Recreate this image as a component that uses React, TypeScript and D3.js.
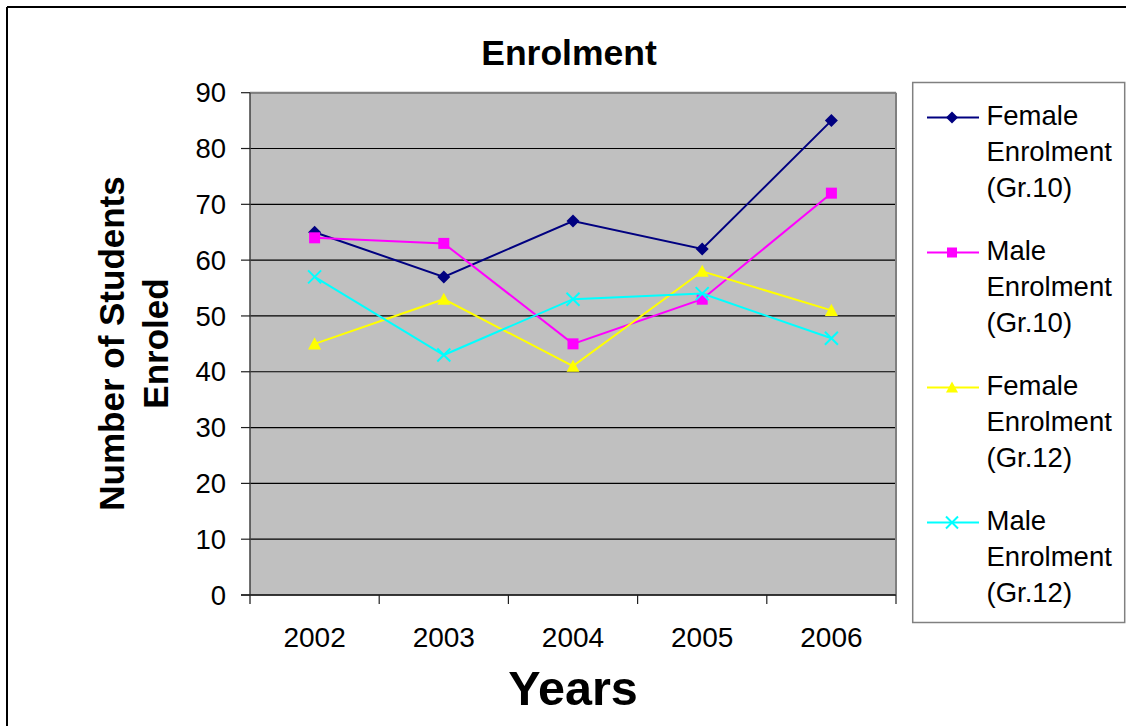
import React from "react";
import * as d3 from "d3";

const years = ["2002", "2003", "2004", "2005", "2006"];
const femaleGr10 = [65, 57, 67, 62, 85];
const maleGr10 = [64, 63, 45, 53, 72];
const femaleGr12 = [45, 53, 41, 58, 51];
const maleGr12 = [57, 43, 53, 54, 46];
const yTicks = [0, 10, 20, 30, 40, 50, 60, 70, 80, 90];
const seriesNames = [
  ["Female", "Enrolment", "(Gr.10)"],
  ["Male", "Enrolment", "(Gr.10)"],
  ["Female", "Enrolment", "(Gr.12)"],
  ["Male", "Enrolment", "(Gr.12)"],
];

const FONT = "'Liberation Sans', Arial, sans-serif";

type Shape = "diamond" | "square" | "triangle" | "x";

function Marker({ x, y, shape, color, s = 6.5 }: { x: number; y: number; shape: Shape; color: string; s?: number }) {
  if (shape === "diamond") {
    return <path d={`M${x},${y - s}L${x + s},${y}L${x},${y + s}L${x - s},${y}Z`} fill={color} />;
  }
  if (shape === "square") {
    const h = s - 1;
    return <rect x={x - h} y={y - h} width={2 * h} height={2 * h} fill={color} />;
  }
  if (shape === "triangle") {
    return <path d={`M${x},${y - s}L${x + s},${y + s * 0.85}L${x - s},${y + s * 0.85}Z`} fill={color} />;
  }
  return (
    <path
      d={`M${x - s},${y - s}L${x + s},${y + s}M${x - s},${y + s}L${x + s},${y - s}`}
      stroke={color}
      strokeWidth={2}
      fill="none"
    />
  );
}

export default function App() {
  const left = 250, right = 896, top = 92.7, bottom = 595;
  const x = d3.scaleBand<string>().domain(years).range([left, right]).padding(0);
  const y = d3.scaleLinear().domain([0, 90]).range([bottom, top]);
  const cx = (yr: string) => (x(yr) as number) + x.bandwidth() / 2;

  const series = [
    { data: femaleGr10, color: "#000080", shape: "diamond" as Shape },
    { data: maleGr10, color: "#FF00FF", shape: "square" as Shape },
    { data: femaleGr12, color: "#FFFF00", shape: "triangle" as Shape },
    { data: maleGr12, color: "#00FFFF", shape: "x" as Shape },
  ];

  const line = d3
    .line<number>()
    .x((_, i) => cx(years[i]))
    .y((d) => y(d));

  const legX = 912.7, legY = 82.5, legW = 212, legH = 540;

  return (
    <svg
      width={1126}
      height={726}
      style={{ position: "absolute", left: 0, top: 0, background: "#fff" }}
      fontFamily={FONT}
    >
      <rect x={0} y={0} width={1126} height={726} fill="#fff" />
      {/* outer frame */}
      <line x1={7} y1={7} x2={1126} y2={7} stroke="#000" strokeWidth={2} />
      <line x1={7} y1={7} x2={7} y2={726} stroke="#000" strokeWidth={2} />

      {/* title */}
      <text x={569} y={65} textAnchor="middle" fontSize={35.5} fontWeight="bold">
        Enrolment
      </text>

      {/* plot area */}
      <rect x={left} y={top} width={right - left} height={bottom - top} fill="#C0C0C0" />
      {yTicks.map((t) => (
        <line key={"g" + t} x1={left} x2={right} y1={y(t)} y2={y(t)} stroke="#000" strokeWidth={1.2} />
      ))}
      <line x1={left} x2={right} y1={top} y2={top} stroke="#808080" strokeWidth={2} />
      <line x1={right} x2={right} y1={top} y2={bottom} stroke="#808080" strokeWidth={2} />
      <line x1={left} x2={left} y1={top} y2={bottom + 9} stroke="#404040" strokeWidth={1.5} />
      <line x1={left - 9} x2={right} y1={bottom} y2={bottom} stroke="#202020" strokeWidth={1.5} />

      {/* y ticks */}
      {yTicks.map((t) => (
        <g key={"yt" + t}>
          <line x1={left - 9} x2={left} y1={y(t)} y2={y(t)} stroke="#202020" strokeWidth={1.2} />
          <text x={226} y={y(t)} dy="0.35em" textAnchor="end" fontSize={27.5}>
            {t}
          </text>
        </g>
      ))}

      {/* x ticks */}
      {years.map((yr) => (
        <line
          key={"xt" + yr}
          x1={(x(yr) as number) + x.bandwidth()}
          x2={(x(yr) as number) + x.bandwidth()}
          y1={bottom}
          y2={bottom + 9}
          stroke="#202020"
          strokeWidth={1.2}
        />
      ))}
      {years.map((yr) => (
        <text key={"xl" + yr} x={cx(yr)} y={647} textAnchor="middle" fontSize={28}>
          {yr}
        </text>
      ))}

      {/* axis titles */}
      <text
        transform="translate(123.5,343.5) rotate(-90)"
        textAnchor="middle"
        fontSize={35}
        fontWeight="bold"
      >
        Number of Students
      </text>
      <text transform="translate(168,343.5) rotate(-90)" textAnchor="middle" fontSize={35} fontWeight="bold">
        Enroled
      </text>
      <text x={573} y={705} textAnchor="middle" fontSize={48.5} fontWeight="bold">
        Years
      </text>

      {/* series */}
      {series.map((s, si) => (
        <g key={"s" + si}>
          <path d={line(s.data) as string} fill="none" stroke={s.color} strokeWidth={2} />
          {s.data.map((v, i) => (
            <Marker key={i} x={cx(years[i])} y={y(v)} shape={s.shape} color={s.color} />
          ))}
        </g>
      ))}

      {/* legend */}
      <rect x={legX} y={legY} width={legW} height={legH} fill="#fff" stroke="#808080" strokeWidth={1.5} />
      {series.map((s, si) => {
        const base = 125 + si * 135;
        const ly = base - 7.5;
        return (
          <g key={"l" + si}>
            <line x1={927} x2={979} y1={ly} y2={ly} stroke={s.color} strokeWidth={2} />
            <Marker x={952} y={ly} shape={s.shape} color={s.color} s={6} />
            {seriesNames[si].map((t, k) => (
              <text key={k} x={986.5} y={base + k * 36} fontSize={27.5}>
                {t}
              </text>
            ))}
          </g>
        );
      })}
    </svg>
  );
}
